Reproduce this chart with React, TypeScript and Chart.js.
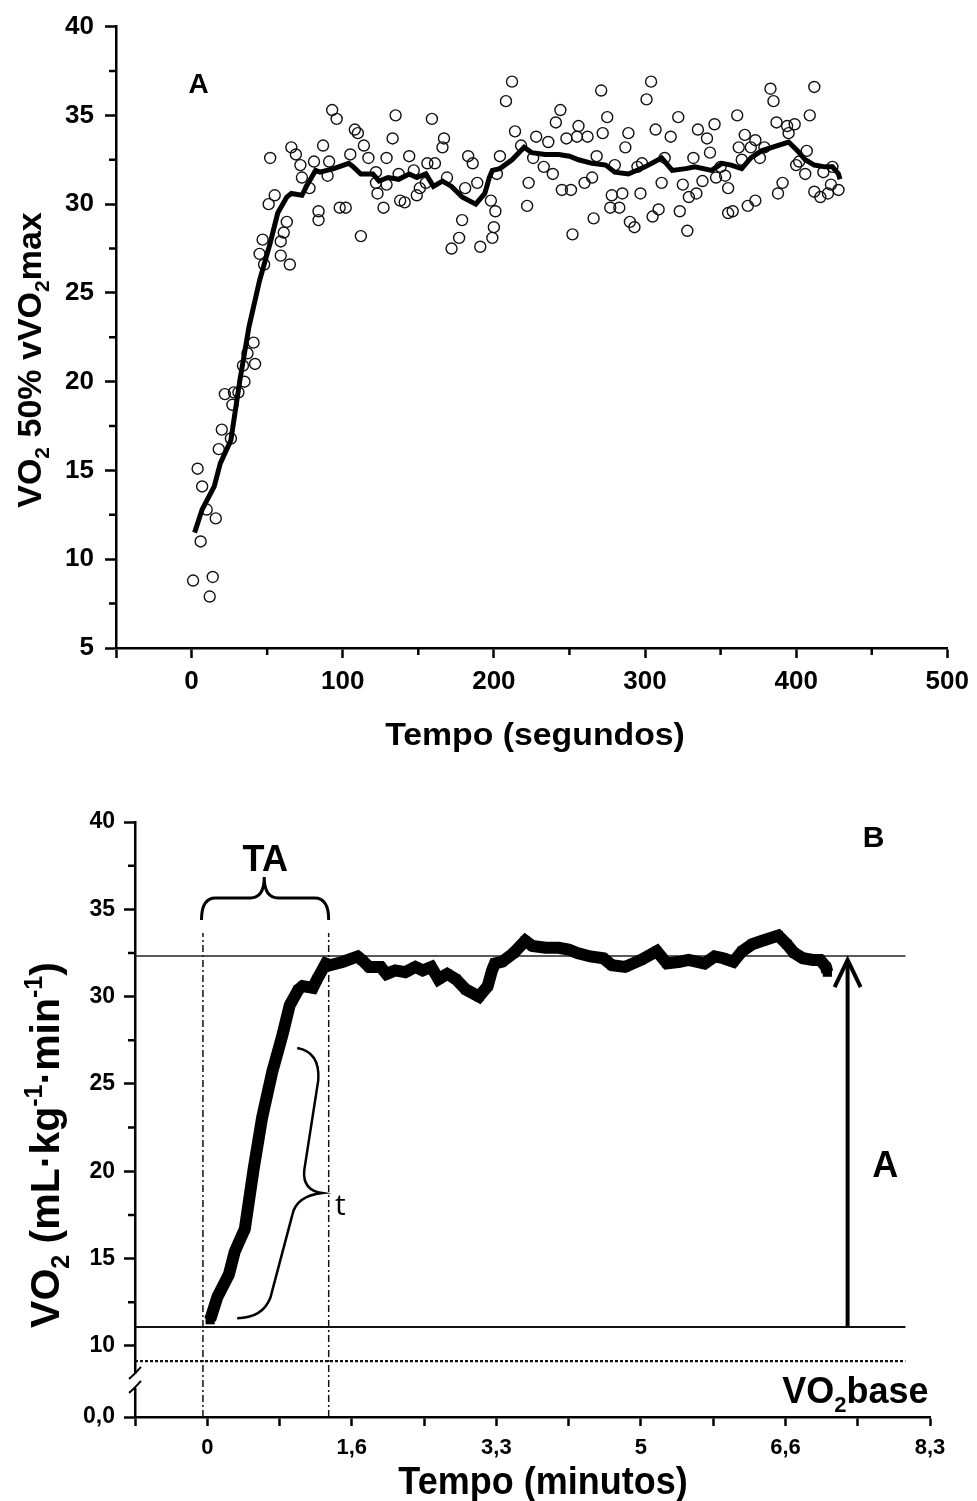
import React, { useEffect, useRef } from 'react';
import { Chart, registerables } from 'chart.js';

Chart.register(...registerables);

// ---------------- Panel A data ----------------
const scatterTime = [
  1, 4, 6, 7, 10, 12, 14, 16, 18, 20, 22, 26, 27, 28, 31, 34, 35, 37, 41, 42,
  45, 47, 48, 51, 52, 55, 59, 59, 61, 63, 65, 66, 69, 72, 73, 78, 81, 84, 84, 87, 90, 91,
  93, 96, 98, 102, 105, 108, 110, 112, 114, 117, 122, 122, 123, 127, 129, 129, 133, 135, 137, 138,
  141, 144, 147, 149, 151, 155, 156, 159, 161, 166, 167, 169, 172, 177, 179, 181, 183, 186, 189, 191,
  198, 201, 200, 199, 202, 204,
  208, 212, 214, 218, 222, 223, 226, 228, 233, 236, 239, 241, 244, 245, 248, 251, 252, 255, 256, 260,
  262, 265, 266, 268, 271, 272, 275, 277, 278, 280, 283, 285, 287, 289, 290, 293, 295, 297, 298, 301,
  304, 305, 307, 309, 311, 313, 317, 322, 323, 325, 328, 329, 332, 334, 335, 338, 341, 343, 346, 347,
  350, 353, 355, 355, 358, 361, 362, 364, 366, 368, 370, 373, 373, 376, 379, 383, 385, 387, 388, 391,
  394, 395, 399, 400, 402, 406, 407, 409, 412, 412, 416, 418, 421, 423, 424, 428,
];
const scatterVO2 = [
  8.8, 15.1, 11.0, 14.1, 12.8, 7.9, 9.0, 12.3, 16.2, 17.3, 19.3, 16.8, 18.7, 19.4, 19.4, 20.9, 20.0, 21.6, 22.2, 21.0,
  27.2, 28.0, 26.6, 30.0, 32.6, 30.5, 27.9, 27.1, 28.4, 29.0, 26.6, 33.2, 32.8, 32.2, 31.5, 30.9, 32.4, 29.1, 29.6, 33.3, 31.6, 32.4,
  35.3, 34.8, 29.8, 29.8, 32.8, 34.2, 34.0, 28.2, 33.3, 32.6, 31.8, 31.2, 30.6, 29.8, 31.1, 32.6, 33.7, 35.0, 31.7, 30.2,
  30.1, 32.7, 31.9, 30.5, 30.9, 31.2, 32.3, 34.8, 32.3, 33.2, 33.7, 31.5, 27.5, 28.1, 29.1, 30.9, 32.7, 32.3, 31.2, 27.6,
  30.2, 29.6, 28.7, 28.1, 31.7, 32.7,
  35.8, 36.9, 34.1, 33.3, 29.9, 31.2, 32.6, 33.8, 32.1, 33.5, 31.7, 34.6, 35.3, 30.8, 33.7, 30.8, 28.3, 33.8, 34.4, 31.2,
  33.8, 31.5, 29.2, 32.7, 36.4, 34.0, 34.9, 29.8, 30.5, 32.2, 29.8, 30.6, 33.2, 34.0, 29.0, 28.7, 32.1, 30.6, 32.3, 35.9,
  36.9, 29.3, 34.2, 29.7, 31.2, 32.6, 33.8, 34.9, 29.6, 31.1, 28.5, 30.4, 32.6, 30.6, 34.2, 31.3, 33.7, 32.9, 34.5, 31.5,
  32.1, 31.6, 30.9, 29.5, 29.6, 35.0, 33.2, 32.5, 33.9, 29.9, 33.2, 33.6, 30.2, 32.6, 33.2, 36.5, 35.8, 34.6, 30.6, 31.2,
  34.4, 34.0, 34.5, 32.2, 32.4, 31.7, 33.0, 35.0, 36.6, 30.7, 30.4, 31.8, 30.6, 31.1, 32.1, 30.8,
];
// moving average (same curve used in panel B)
const avgTime = [
  2, 7, 15, 19, 26, 32, 38, 45, 52, 57, 63, 66, 73, 76, 82, 85, 94, 104, 107, 112,
  120, 124, 130, 137, 144, 149, 155, 160, 166, 172, 179, 188, 194, 197, 199, 204, 212, 220, 225, 234,
  243, 250, 256, 265, 274, 280, 289, 300, 311, 318, 327, 333, 344, 351, 357, 364, 370, 377, 384, 395,
  401, 406, 412, 419, 424, 428, 429,
];
const avgVO2 = [
  11.5, 12.8, 14.1, 15.4, 16.7, 20.1, 23.1, 25.7, 27.8, 29.5, 30.4, 30.6, 30.5, 31.0, 31.9, 31.8, 32.0, 32.3, 32.1, 31.7,
  31.7, 31.3, 31.5, 31.4, 31.7, 31.5, 31.7, 31.0, 31.3, 31.0, 30.4, 30.0, 30.6, 31.5, 31.9, 32.0, 32.5, 33.2, 32.9, 32.8,
  32.8, 32.7, 32.5, 32.3, 32.2, 31.8, 31.7, 32.1, 32.6, 31.9, 32.0, 32.1, 31.9, 32.3, 32.2, 32.0, 32.6, 33.0, 33.2, 33.5,
  33.0, 32.5, 32.2, 32.1, 32.1, 31.7, 31.4,
];
const xTicksA = [-50, 0, 100, 200, 300, 400, 500];
const xTickLabelsA = ['', '0', '100', '200', '300', '400', '500'];
const xMinorA = [50, 150, 250, 350, 450];
const yTicksA = [5, 10, 15, 20, 25, 30, 35, 40];
const yMinorA = [7.5, 12.5, 17.5, 22.5, 27.5, 32.5, 37.5];

// ---------------- Panel B data ----------------
const xTicksB = [-50, 0, 50, 100, 150, 200, 250, 300, 350, 400, 450, 500];
const xLabelValuesB = [0, 100, 200, 300, 400, 500];
const xLabelTextsB = ['0', '1,6', '3,3', '5', '6,6', '8,3'];
const yBottomB = 5.93; // shown as "0,0" below the axis break
const yTicksB = [5.93, 10, 15, 20, 25, 30, 35, 40];
const yTickLabelsB = ['0,0', '10', '15', '20', '25', '30', '35', '40'];
const yMinorB = [12.5, 17.5, 22.5, 27.5, 32.5, 37.5];
const steadyLevel = 32.33;
const startLevel = 11.08;
const baseLevel = 9.13;
const refLineStart = -50;
const refLineEnd = 483;
const taStart = -3;
const taEnd = 84;
const taTop = 33.64;
const ampTime = 443;
const ampTop = 32.1;
const headHalf = 9;
const headDrop = 1.55;
const breakValue = 8.0;
// curly brace over TA (data coords)
const taBrace = { x1: -4, x2: 84, xm: 39.4, yEnd: 34.39, yArm: 35.65, yTip: 36.85 };
// slanted brace for tau (data coords)
const tauBraceT = [62.2, 78.1, 76.8, 67.1, 65.7, 79.5, 61.5, 58.8, 43.6, 38.0, 20.7];
const tauBraceV = [27.06, 26.83, 25.22, 20.07, 18.92, 18.75, 18.58, 17.49, 12.74, 11.59, 11.59];

const FONT_A = "'Liberation Sans', Arial, sans-serif";
const FONT_B = "'Liberation Sans Narrow', 'Liberation Sans', Arial, sans-serif";

type Seg = [string, number];

function drawRich(
  ctx: CanvasRenderingContext2D,
  segs: Seg[],
  cx: number,
  cy: number,
  size: number,
  family: string,
  weight: string,
  angle = 0,
  align: 'center' | 'left' | 'right' = 'center',
  stretchX = 1,
  stretchY = 1
) {
  const fontFor = (k: number) => `${weight} ${k ? Math.round(size * 0.62) : size}px ${family}`;
  ctx.save();
  let total = 0;
  const widths = segs.map(([t, k]) => {
    ctx.font = fontFor(k);
    const w = ctx.measureText(t).width;
    total += w;
    return w;
  });
  ctx.translate(cx, cy);
  if (angle) ctx.rotate(angle);
  ctx.scale(stretchX, stretchY);
  let x = align === 'center' ? -total / 2 : align === 'right' ? -total : 0;
  const base = size * 0.36;
  ctx.fillStyle = '#000';
  ctx.textAlign = 'left';
  ctx.textBaseline = 'alphabetic';
  segs.forEach(([t, k], i) => {
    ctx.font = fontFor(k);
    const dy = k === 1 ? size * 0.24 : k === 2 ? -size * 0.42 : 0;
    ctx.fillText(t, x, base + dy);
    x += widths[i];
  });
  ctx.restore();
}

function minorTicks(chart: any, axisId: string, values: number[], len: number, width: number) {
  const s = chart.scales[axisId];
  const ctx = chart.ctx as CanvasRenderingContext2D;
  ctx.save();
  ctx.strokeStyle = '#000';
  ctx.lineWidth = width;
  ctx.beginPath();
  values.forEach((v) => {
    const p = s.getPixelForValue(v);
    if (s.isHorizontal()) {
      ctx.moveTo(p, s.top);
      ctx.lineTo(p, s.top + len);
    } else {
      ctx.moveTo(s.right, p);
      ctx.lineTo(s.right - len, p);
    }
  });
  ctx.stroke();
  ctx.restore();
}

const pts = (xs: number[], ys: number[]) => xs.map((x, i) => ({ x, y: ys[i] }));

const panelAPlugin = {
  id: 'panelA',
  afterDraw(chart: any) {
    const ctx = chart.ctx as CanvasRenderingContext2D;
    const sx = chart.scales.x;
    const sy = chart.scales.y;
    minorTicks(chart, 'x', xMinorA, 7, 2.5);
    minorTicks(chart, 'y', yMinorA, 7, 2.5);
    drawRich(ctx, [['A', 0]], sx.getPixelForValue(4.6), sy.getPixelForValue(36.8), 28, FONT_A, 'bold');
    drawRich(ctx, [['Tempo (segundos)', 0]], 535, 734, 31, FONT_A, 'bold', 0, 'center', 1.09, 1);
    drawRich(
      ctx,
      [['VO', 0], ['2', 1], [' 50% vVO', 0], ['2', 1], ['max', 0]],
      29,
      360,
      34,
      FONT_A,
      'bold',
      -Math.PI / 2
    );
  },
};

const panelBPlugin = {
  id: 'panelB',
  afterDraw(chart: any) {
    const ctx = chart.ctx as CanvasRenderingContext2D;
    const sx = chart.scales.x;
    const sy = chart.scales.y;
    const X = (v: number) => sx.getPixelForValue(v);
    const Y = (v: number) => sy.getPixelForValue(v);
    minorTicks(chart, 'y', yMinorB, 7, 2.5);

    // axis break
    const ax = sy.right;
    const pb = Y(breakValue);
    ctx.save();
    ctx.fillStyle = '#fff';
    ctx.fillRect(ax - 4, pb - 7, 8, 14);
    ctx.strokeStyle = '#000';
    ctx.lineWidth = 2;
    ctx.beginPath();
    ctx.moveTo(ax - 6, pb - 2);
    ctx.quadraticCurveTo(ax - 1, pb - 6, ax + 6, pb - 14);
    ctx.moveTo(ax - 6, pb + 12);
    ctx.quadraticCurveTo(ax - 1, pb + 8, ax + 6, pb);
    ctx.stroke();
    ctx.restore();

    // TA brace
    ctx.save();
    ctx.strokeStyle = '#000';
    ctx.lineWidth = 3;
    const X1 = X(taBrace.x1), X2 = X(taBrace.x2), XM = X(taBrace.xm);
    const YE = Y(taBrace.yEnd), YA = Y(taBrace.yArm), YT = Y(taBrace.yTip);
    const r = 14;
    ctx.beginPath();
    ctx.moveTo(X1, YE);
    ctx.quadraticCurveTo(X1, YA, X1 + r, YA);
    ctx.lineTo(XM - r, YA);
    ctx.quadraticCurveTo(XM, YA, XM, YT);
    ctx.quadraticCurveTo(XM, YA, XM + r, YA);
    ctx.lineTo(X2 - r, YA);
    ctx.quadraticCurveTo(X2, YA, X2, YE);
    ctx.stroke();

    // tau brace
    const P = tauBraceT.map((t, i) => [X(t), Y(tauBraceV[i])]);
    ctx.lineWidth = 2.5;
    ctx.beginPath();
    ctx.moveTo(P[0][0], P[0][1]);
    ctx.quadraticCurveTo(P[1][0], P[1][1], P[2][0], P[2][1]);
    ctx.lineTo(P[3][0], P[3][1]);
    ctx.quadraticCurveTo(P[4][0], P[4][1], P[5][0], P[5][1]);
    ctx.quadraticCurveTo(P[6][0], P[6][1], P[7][0], P[7][1]);
    ctx.lineTo(P[8][0], P[8][1]);
    ctx.quadraticCurveTo(P[9][0], P[9][1], P[10][0], P[10][1]);
    ctx.stroke();
    ctx.restore();

    drawRich(ctx, [['TA', 0]], X(40.1), Y(37.94), 36, FONT_B, 'bold');
    drawRich(ctx, [['t', 0]], X(92), Y(18.1), 30, "'Open Sans', 'Noto Sans', sans-serif", 'normal');
    drawRich(ctx, [['A', 0]], X(469), Y(20.4), 36, FONT_A, 'bold');
    drawRich(ctx, [['B', 0]], X(461), Y(39.2), 30, FONT_A, 'bold');
    drawRich(ctx, [['VO', 0], ['2', 1], ['base', 0]], X(499), Y(7.47), 36, FONT_B, 'bold', 0, 'right');

    drawRich(ctx, [['Tempo (minutos)', 0]], 543, 710, 36, FONT_B, 'bold', 0, 'center', 1, 1.1);
    drawRich(
      ctx,
      [['VO', 0], ['2', 1], [' (mL·kg', 0], ['-1', 2], ['·min', 0], ['-1', 2], [')', 0]],
      44,
      375,
      41,
      FONT_B,
      'bold',
      -Math.PI / 2
    );
  },
};

function makeAxis(extra: any) {
  return {
    type: 'linear',
    border: { display: true, color: '#000', width: 2.5 },
    ...extra,
  };
}

export default function App() {
  const refA = useRef<HTMLCanvasElement>(null);
  const refB = useRef<HTMLCanvasElement>(null);

  useEffect(() => {
    const chartA = new Chart(refA.current as HTMLCanvasElement, {
      type: 'scatter',
      data: {
        datasets: [
          {
            type: 'line',
            data: pts(avgTime, avgVO2),
            borderColor: '#000',
            borderWidth: 5,
            pointRadius: 0,
            tension: 0,
            order: 0,
          } as any,
          {
            type: 'scatter',
            data: pts(scatterTime, scatterVO2),
            pointStyle: 'circle',
            pointRadius: 5.5,
            borderColor: '#111',
            borderWidth: 1.4,
            backgroundColor: 'rgba(0,0,0,0)',
            order: 1,
          } as any,
        ],
      },
      options: {
        responsive: false,
        animation: false,
        events: [],
        layout: { padding: { left: 0, right: 27, top: 26, bottom: 52 } },
        plugins: { legend: { display: false }, tooltip: { enabled: false } },
        scales: {
          x: makeAxis({
            min: -50,
            max: 500,
            afterFit: (s: any) => { s.height = 70; },
            afterBuildTicks: (s: any) => { s.ticks = xTicksA.map((v) => ({ value: v })); },
            grid: { drawOnChartArea: false, drawTicks: true, tickColor: '#000', tickWidth: 2.5, tickLength: 10 },
            ticks: {
              callback: (v: any) => xTickLabelsA[xTicksA.indexOf(Number(v))] ?? '',
              font: { family: FONT_A, size: 26, weight: 'bold' },
              color: '#000',
              padding: 8,
              maxRotation: 0,
              autoSkip: false,
            },
          }),
          y: makeAxis({
            min: 5,
            max: 40,
            afterFit: (s: any) => { s.width = 116; },
            afterBuildTicks: (s: any) => { s.ticks = yTicksA.map((v) => ({ value: v })); },
            grid: { drawOnChartArea: false, drawTicks: true, tickColor: '#000', tickWidth: 2.5, tickLength: 11 },
            ticks: {
              callback: (v: any) => String(v),
              font: { family: FONT_A, size: 26, weight: 'bold' },
              color: '#000',
              padding: 11,
              autoSkip: false,
            },
          }),
        },
      } as any,
      plugins: [panelAPlugin],
    });

    const line2 = (x1: number, y1: number, x2: number, y2: number) => [
      { x: x1, y: y1 },
      { x: x2, y: y2 },
    ];
    const chartB = new Chart(refB.current as HTMLCanvasElement, {
      type: 'scatter',
      data: {
        datasets: [
          {
            type: 'line',
            data: pts(avgTime, avgVO2),
            borderColor: '#000',
            borderWidth: 12,
            pointStyle: 'rect',
            pointRadius: 6.5,
            pointBorderWidth: 0,
            pointBackgroundColor: '#000',
            tension: 0,
            order: 0,
          } as any,
          { type: 'line', data: line2(refLineStart, steadyLevel, refLineEnd, steadyLevel), borderColor: '#222', borderWidth: 1.5, pointRadius: 0, order: 2 } as any,
          { type: 'line', data: line2(refLineStart, startLevel, refLineEnd, startLevel), borderColor: '#111', borderWidth: 2, pointRadius: 0, order: 2 } as any,
          { type: 'line', data: line2(refLineStart, baseLevel, refLineEnd, baseLevel), borderColor: '#111', borderWidth: 2.2, borderDash: [3, 2], pointRadius: 0, order: 2 } as any,
          { type: 'line', data: line2(taStart, yBottomB, taStart, taTop), borderColor: '#111', borderWidth: 1.5, borderDash: [7, 3, 2, 3], pointRadius: 0, order: 2 } as any,
          { type: 'line', data: line2(taEnd, yBottomB, taEnd, taTop), borderColor: '#111', borderWidth: 1.5, borderDash: [7, 3, 2, 3], pointRadius: 0, order: 2 } as any,
          { type: 'line', data: line2(ampTime, startLevel, ampTime, ampTop), borderColor: '#000', borderWidth: 4, pointRadius: 0, order: 1 } as any,
          {
            type: 'line',
            data: [
              { x: ampTime - headHalf, y: ampTop - headDrop },
              { x: ampTime, y: ampTop },
              { x: ampTime + headHalf, y: ampTop - headDrop },
            ],
            borderColor: '#000',
            borderWidth: 4,
            pointRadius: 0,
            order: 1,
          } as any,
        ],
      },
      options: {
        responsive: false,
        animation: false,
        events: [],
        layout: { padding: { left: 0, right: 47, top: 52, bottom: 24 } },
        plugins: { legend: { display: false }, tooltip: { enabled: false } },
        scales: {
          x: makeAxis({
            min: -50,
            max: 500,
            afterFit: (s: any) => { s.height = 60; },
            afterBuildTicks: (s: any) => { s.ticks = xTicksB.map((v) => ({ value: v })); },
            grid: { drawOnChartArea: false, drawTicks: true, tickColor: '#000', tickWidth: 2.5, tickLength: 9 },
            ticks: {
              callback: (v: any) => {
                const i = xLabelValuesB.indexOf(Number(v));
                return i >= 0 ? xLabelTextsB[i] : '';
              },
              font: { family: FONT_B, size: 22, weight: 'bold' },
              color: '#000',
              padding: 9,
              maxRotation: 0,
              autoSkip: false,
            },
          }),
          y: makeAxis({
            min: yBottomB,
            max: 40,
            afterFit: (s: any) => { s.width = 135; },
            afterBuildTicks: (s: any) => { s.ticks = yTicksB.map((v) => ({ value: v })); },
            grid: { drawOnChartArea: false, drawTicks: true, tickColor: '#000', tickWidth: 2.5, tickLength: 11 },
            ticks: {
              callback: (v: any) => {
                const i = yTicksB.indexOf(Number(v));
                return i >= 0 ? yTickLabelsB[i] : '';
              },
              font: { family: FONT_B, size: 23, weight: 'bold' },
              color: '#000',
              padding: 9,
              autoSkip: false,
            },
          }),
        },
      } as any,
      plugins: [panelBPlugin],
    });

    return () => {
      chartA.destroy();
      chartB.destroy();
    };
  }, []);

  return (
    <div style={{ position: 'absolute', left: 0, top: 0, width: 977, height: 1501, background: '#fff' }}>
      <canvas ref={refA} width={977} height={770} style={{ position: 'absolute', left: 0, top: 0 }} />
      <canvas ref={refB} width={977} height={731} style={{ position: 'absolute', left: 0, top: 770 }} />
    </div>
  );
}
